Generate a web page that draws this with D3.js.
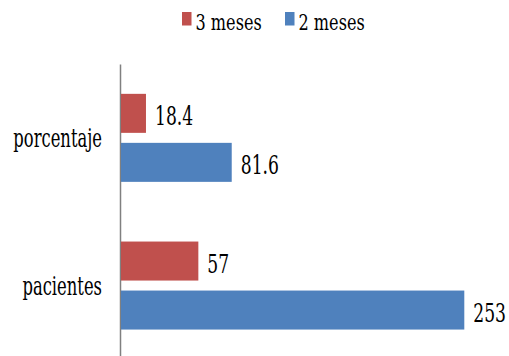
<!DOCTYPE html>
<html lang="en">
  <head>
    <meta charset="UTF-8" />
    <title>meses</title>
    <script src="https://d3js.org/d3.v7.min.js"></script>
    <style>
      body {
        margin: 0;
        background: #fff;
      }
    </style>
  </head>
  <body>
    <script>
      const categories = ["porcentaje", "pacientes"];
      const series = ["3 meses", "2 meses"];
      const tresMeses = [18.4, 57];
      const dosMeses = [81.6, 253];
      const colors = ["#C0504D", "#4F81BD"];

      const rows = categories.map((c, i) => ({
        category: c,
        values: [
          { key: series[0], value: tresMeses[i] },
          { key: series[1], value: dosMeses[i] },
        ],
      }));

      const width = 509,
        height = 356;
      const squeeze = 0.66; // text looks horizontally compressed
      const font = "DejaVu Serif";

      const svg = d3
        .select("body")
        .append("svg")
        .attr("width", width)
        .attr("height", height)
        .attr("font-family", font);

      const x = d3.scaleLinear().domain([0, 253]).range([121, 464.3]);

      const y = d3
        .scaleBand()
        .domain(categories)
        .range([64, 359.4])
        .padding(0);

      const yInner = d3
        .scaleBand()
        .domain(series)
        .range([0, y.bandwidth()])
        .paddingInner(0.204)
        .paddingOuter(0.609);

      // category axis
      const axis = svg
        .append("g")
        .attr("transform", "translate(120,0)")
        .call(d3.axisLeft(y).tickSize(0).tickSizeOuter(0));
      axis.attr("font-family", font).attr("font-size", 26);
      axis.select(".domain").attr("stroke", "#808080").attr("stroke-width", 1.5);
      axis
        .selectAll(".tick text")
        .attr("x", 0)
        .attr("dy", "0.36em")
        .attr("transform", "translate(-18,0) scale(0.63,1)")
        .attr("fill", "#000");

      const groups = svg
        .selectAll(".group")
        .data(rows)
        .enter()
        .append("g")
        .attr("class", "group")
        .attr("transform", (d) => `translate(0,${y(d.category)})`);

      groups
        .selectAll("rect")
        .data((d) => d.values)
        .enter()
        .append("rect")
        .attr("x", x(0))
        .attr("y", (d) => yInner(d.key))
        .attr("width", (d) => x(d.value) - x(0))
        .attr("height", yInner.bandwidth())
        .attr("fill", (d, i) => colors[i]);

      groups
        .selectAll("text.value")
        .data((d) => d.values)
        .enter()
        .append("text")
        .attr("class", "value")
        .attr(
          "transform",
          (d) =>
            `translate(${x(d.value) + 9},${
              yInner(d.key) + yInner.bandwidth() / 2
            }) scale(${squeeze},1)`
        )
        .attr("dy", "0.44em")
        .attr("font-size", 26)
        .text((d) => d.value);

      // legend
      const legendX = [182, 285];
      const legend = svg
        .selectAll(".legend")
        .data(series)
        .enter()
        .append("g")
        .attr("class", "legend")
        .attr("transform", (d, i) => `translate(${legendX[i]},0)`);

      legend
        .append("rect")
        .attr("x", 0)
        .attr("y", 12)
        .attr("width", 9.5)
        .attr("height", 13.5)
        .attr("fill", (d, i) => colors[i]);

      legend
        .append("text")
        .attr("transform", "translate(13.5,30) scale(0.7,1)")
        .attr("font-size", 23)
        .text((d) => d);
    </script>
  </body>
</html>
